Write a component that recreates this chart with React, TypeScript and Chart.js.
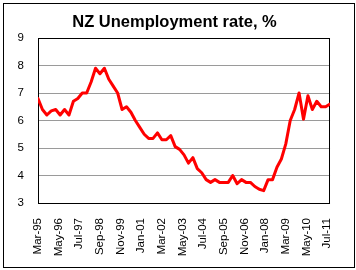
import React, { useEffect, useRef } from 'react';
import { Chart, registerables } from 'chart.js';

Chart.register(...registerables);

const TITLE = 'NZ Unemployment rate, %';

// Quarterly unemployment rate, Mar-95 .. Sep-11 (one value per quarter)
const unemployment = [
  6.8, 6.4, 6.2, 6.35, 6.4, 6.2, 6.4, 6.2, 6.7, 6.8,
  7.0, 7.0, 7.4, 7.9, 7.7, 7.9, 7.5, 7.25, 7.0, 6.4,
  6.5, 6.3, 6.0, 5.75, 5.5, 5.35, 5.35, 5.55, 5.3, 5.3,
  5.45, 5.05, 4.95, 4.75, 4.45, 4.65, 4.25, 4.1, 3.85, 3.75,
  3.85, 3.75, 3.75, 3.75, 4.0, 3.7, 3.85, 3.75, 3.75, 3.6,
  3.5, 3.45, 3.85, 3.85, 4.3, 4.6, 5.15, 6.0, 6.4, 7.0,
  6.05, 6.9, 6.4, 6.7, 6.5, 6.5, 6.6,
];
const MONTHS_PER_POINT = 3;

const tickLabels = [
  'Mar-95', 'May-96', 'Jul-97', 'Sep-98', 'Nov-99', 'Jan-01', 'Mar-02', 'May-03',
  'Jul-04', 'Sep-05', 'Nov-06', 'Jan-08', 'Mar-09', 'May-10', 'Jul-11',
];
const TICK_STEP_MONTHS = 14;

const Y_MIN = 3;
const Y_MAX = 9;
const Y_STEP = 1;

const FONT = '"Liberation Sans", Arial, sans-serif';

const framePlugin = {
  id: 'frame',
  beforeDatasetsDraw(chart: any) {
    const { ctx, chartArea } = chart;
    ctx.save();
    ctx.strokeStyle = '#000';
    ctx.lineWidth = 1;
    ctx.strokeRect(
      Math.round(chartArea.left) + 0.5,
      Math.round(chartArea.top) + 0.5,
      Math.round(chartArea.right - chartArea.left) - 1,
      Math.round(chartArea.bottom - chartArea.top)
    );
    ctx.restore();
  },
  afterDraw(chart: any) {
    const { ctx } = chart;
    ctx.save();
    ctx.strokeStyle = '#000';
    ctx.lineWidth = 1;
    ctx.strokeRect(3.5, 3.5, 351, 264);
    ctx.fillStyle = '#000';
    ctx.font = `bold 16.5px ${FONT}`;
    ctx.textAlign = 'center';
    ctx.textBaseline = 'alphabetic';
    ctx.fillText(TITLE, 174.5, 27);
    ctx.restore();
  },
};

export default function App() {
  const ref = useRef<HTMLCanvasElement | null>(null);

  useEffect(() => {
    if (!ref.current) return;
    const chart = new Chart(ref.current, {
      type: 'line',
      data: {
        datasets: [
          {
            data: unemployment.map((v, i) => ({ x: i * MONTHS_PER_POINT, y: v })),
            borderColor: '#ff0000',
            backgroundColor: '#ff0000',
            borderWidth: 3,
            pointRadius: 0,
            tension: 0,
            borderJoinStyle: 'round',
            borderCapStyle: 'round',
          },
        ],
      },
      options: {
        responsive: false,
        animation: false,
        layout: { padding: { left: 0, top: 38, right: 10, bottom: 0 } },
        plugins: {
          legend: { display: false },
          title: { display: false },
          tooltip: { enabled: false },
        },
        scales: {
          x: {
            type: 'linear',
            bounds: 'data',
            min: 0,
            max: (unemployment.length - 1) * MONTHS_PER_POINT,
            grid: { display: false, drawTicks: false },
            border: { display: false },
            afterBuildTicks: (scale: any) => {
              scale.ticks = tickLabels.map((_, i) => ({ value: i * TICK_STEP_MONTHS }));
            },
            afterFit: (scale: any) => {
              scale.height = 67;
            },
            ticks: {
              autoSkip: false,
              maxRotation: 90,
              minRotation: 90,
              padding: 15,
              color: '#000',
              font: { family: FONT, size: 11.5 },
              callback: (value: any) => {
                const idx = Math.round(Number(value) / TICK_STEP_MONTHS);
                return tickLabels[idx] ?? '';
              },
            },
          },
          y: {
            type: 'linear',
            min: Y_MIN,
            max: Y_MAX,
            grid: { color: '#9a9a9a', lineWidth: 1, drawTicks: false },
            border: { display: false },
            afterFit: (scale: any) => {
              scale.width = 38;
            },
            ticks: {
              stepSize: Y_STEP,
              padding: 14,
              color: '#000',
              font: { family: FONT, size: 11.5 },
            },
          },
        },
      },
      plugins: [framePlugin],
    });
    return () => chart.destroy();
  }, []);

  return (
    <div style={{ position: 'fixed', left: 0, top: 0, width: 356, height: 270, background: '#fff' }}>
      <canvas ref={ref} width={356} height={270} style={{ width: 356, height: 270, display: 'block' }} />
    </div>
  );
}
